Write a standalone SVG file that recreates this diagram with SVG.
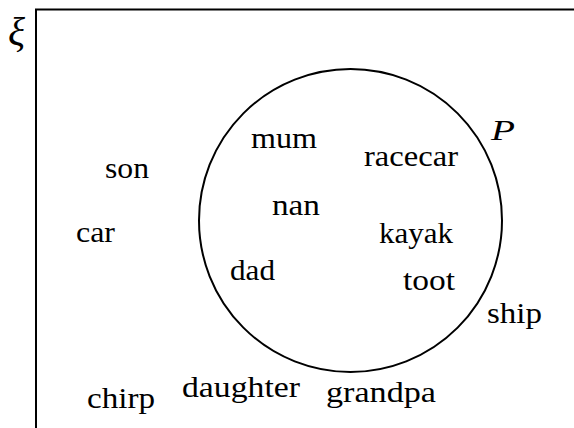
<svg xmlns="http://www.w3.org/2000/svg" width="574" height="428" viewBox="0 0 574 428">
<style>
.w{font-family:'Liberation Serif','DejaVu Serif','Times New Roman',serif;font-size:30px;fill:#000}
.i{font-style:italic}
.xi{font-size:40px}
.ln{fill:none;stroke:#000;stroke-width:2}
</style>
<rect width="574" height="428" fill="#fff"/>
<g id="universe">
<path class="ln" d="M36,430 V9.5 H576"/>
<text class="w i xi" x="8" y="45" textLength="17" lengthAdjust="spacingAndGlyphs">ξ</text>
</g>
<g id="setP">
<circle class="ln" cx="350.5" cy="220.5" r="151.5"/>
<text class="w i" x="491" y="140" textLength="24" lengthAdjust="spacingAndGlyphs">P</text>
</g>
<g id="words">
<text class="w" x="105" y="178" textLength="44" lengthAdjust="spacingAndGlyphs">son</text>
<text class="w" x="76" y="242" textLength="39" lengthAdjust="spacingAndGlyphs">car</text>
<text class="w" x="87" y="408" textLength="68" lengthAdjust="spacingAndGlyphs">chirp</text>
<text class="w" x="182" y="397" textLength="118" lengthAdjust="spacingAndGlyphs">daughter</text>
<text class="w" x="326" y="402" textLength="110" lengthAdjust="spacingAndGlyphs">grandpa</text>
<text class="w" x="251" y="148" textLength="66" lengthAdjust="spacingAndGlyphs">mum</text>
<text class="w" x="364" y="166" textLength="94" lengthAdjust="spacingAndGlyphs">racecar</text>
<text class="w" x="272" y="215" textLength="48" lengthAdjust="spacingAndGlyphs">nan</text>
<text class="w" x="379" y="243" textLength="74" lengthAdjust="spacingAndGlyphs">kayak</text>
<text class="w" x="230" y="280" textLength="45" lengthAdjust="spacingAndGlyphs">dad</text>
<text class="w" x="403" y="290" textLength="52" lengthAdjust="spacingAndGlyphs">toot</text>
<text class="w" x="487" y="323" textLength="55" lengthAdjust="spacingAndGlyphs">ship</text>
</g>
</svg>
